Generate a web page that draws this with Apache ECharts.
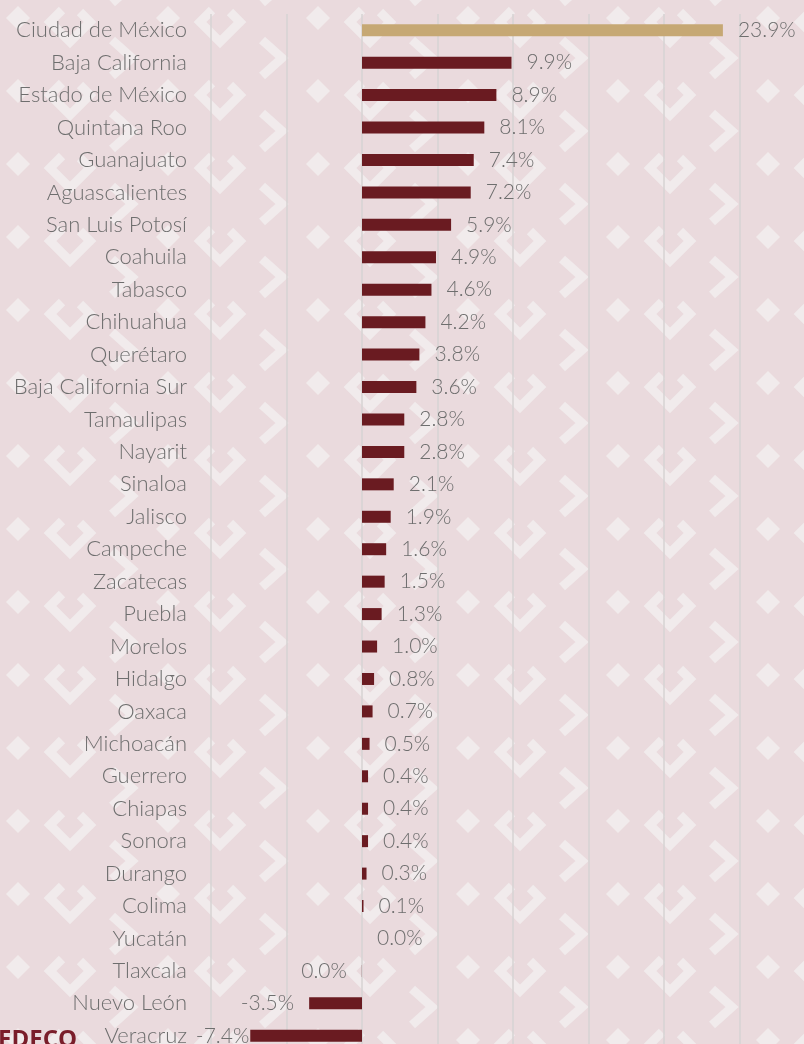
<!DOCTYPE html>
<html>
<head>
<meta charset="utf-8">
<style>
  html, body { margin: 0; padding: 0; background: #ece0e2; }
  #main { width: 804px; height: 1044px; }
</style>
<script src="https://cdn.jsdelivr.net/npm/echarts@6/dist/echarts.min.js"></script>
</head>
<body>
<div id="main"></div>
<script>
// estados (de arriba hacia abajo)
const states = [
    'Ciudad de México', 'Baja California', 'Estado de México', 'Quintana Roo',
    'Guanajuato', 'Aguascalientes', 'San Luis Potosí', 'Coahuila', 'Tabasco',
    'Chihuahua', 'Querétaro', 'Baja California Sur', 'Tamaulipas', 'Nayarit',
    'Sinaloa', 'Jalisco', 'Campeche', 'Zacatecas', 'Puebla', 'Morelos',
    'Hidalgo', 'Oaxaca', 'Michoacán', 'Guerrero', 'Chiapas', 'Sonora',
    'Durango', 'Colima', 'Yucatán', 'Tlaxcala', 'Nuevo León', 'Veracruz'
];
// variación en %
const values = [
    23.9, 9.9, 8.9, 8.1, 7.4, 7.2, 5.9, 4.9, 4.6, 4.2, 3.8, 3.6, 2.8, 2.8,
    2.1, 1.9, 1.6, 1.5, 1.3, 1.0, 0.8, 0.7, 0.5, 0.4, 0.4, 0.4, 0.3, 0.1,
    0.0, -0.01, -3.5, -7.4
];
const xTicks = [-10, -5, 0, 5, 10, 15, 20, 25, 30];

const barColor = '#6a1b21';
const highlight = '#c6a874';
const textColor = '#6e6e6e';
const fontFamily = 'Lato, "Open Sans", sans-serif';

function fmt(v) {
    if (Math.abs(v) < 0.05) return '0.0%';
    return v.toFixed(1) + '%';
}

// fondo con patrón (aproximado)
function makePattern() {
    const c = document.createElement('canvas');
    c.width = 150;
    c.height = 73;
    const ctx = c.getContext('2d');
    ctx.fillStyle = '#eadadd';
    ctx.fillRect(0, 0, 150, 73);
    ctx.fillStyle = '#f1ebec';
    ctx.strokeStyle = '#f1ebec';
    // rombo
    ctx.beginPath();
    ctx.moveTo(18, 6); ctx.lineTo(30, 18); ctx.lineTo(18, 30); ctx.lineTo(6, 18);
    ctx.closePath();
    ctx.fill();
    // gancho
    ctx.lineWidth = 9;
    ctx.lineJoin = 'miter';
    ctx.beginPath();
    ctx.moveTo(62, 10); ctx.lineTo(50, 22); ctx.lineTo(70, 42); ctx.lineTo(90, 22);
    ctx.lineTo(80, 12);
    ctx.stroke();
    // chevron
    ctx.beginPath();
    ctx.moveTo(112, 40); ctx.lineTo(132, 58); ctx.lineTo(112, 76);
    ctx.stroke();
    ctx.beginPath();
    ctx.moveTo(112, -33); ctx.lineTo(132, -15); ctx.lineTo(112, 3);
    ctx.stroke();
    return c;
}

const chart = echarts.init(document.getElementById('main'));

const seriesData = values.map((v, i) => ({
    value: v,
    itemStyle: { color: i === 0 ? highlight : barColor },
    label: {
        position: v < 0 ? 'left' : 'right',
        // Veracruz: etiqueta pegada a la barra
        distance: i === values.length - 1 ? 1 : 15
    }
}));

chart.setOption({
    backgroundColor: { image: makePattern(), repeat: 'repeat' },
    animation: false,
    grid: { left: 211, top: 14, width: 604, height: 1038, outerBoundsMode: 'none' },
    xAxis: {
        type: 'value',
        min: xTicks[0],
        max: xTicks[xTicks.length - 1],
        interval: 5,
        axisLabel: { show: false },
        axisLine: { show: false },
        axisTick: { show: false },
        splitLine: { show: true, lineStyle: { color: '#d6d3d3', width: 1.5 } }
    },
    yAxis: {
        type: 'category',
        inverse: true,
        data: states,
        axisLine: { show: false },
        axisTick: { show: false },
        axisLabel: {
            margin: 24,
            color: textColor,
            fontSize: 22,
            fontWeight: 300,
            fontFamily: fontFamily
        }
    },
    series: [{
        type: 'bar',
        data: seriesData,
        barWidth: 12,
        label: {
            show: true,
            distance: 15,
            color: textColor,
            fontSize: 21,
            fontWeight: 300,
            fontFamily: fontFamily,
            formatter: p => fmt(p.value)
        }
    }],
    graphic: [{
        type: 'text',
        left: -2,
        bottom: -8,
        style: {
            text: 'EDECO',
            fill: '#7a1d2a',
            font: 'bold 24px "Open Sans", sans-serif'
        }
    }]
});
</script>
</body>
</html>
